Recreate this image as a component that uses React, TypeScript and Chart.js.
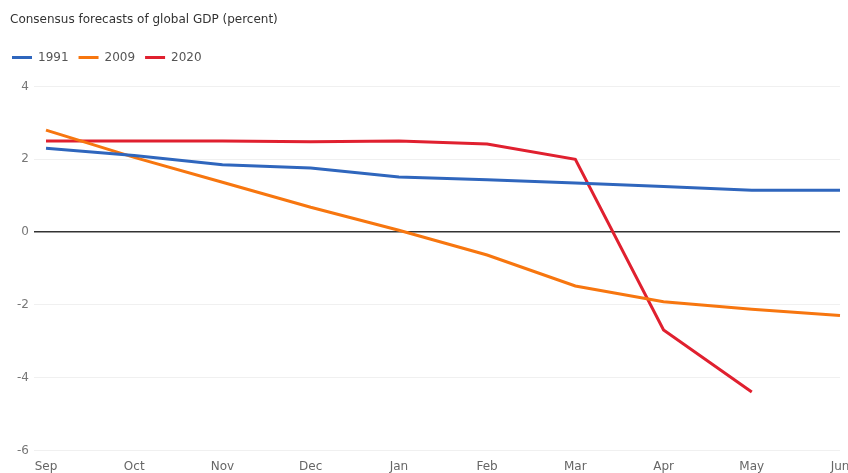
import React, { useEffect, useRef } from "react";
import { Chart, registerables } from "chart.js";

Chart.register(...registerables);

const months = ["Sep", "Oct", "Nov", "Dec", "Jan", "Feb", "Mar", "Apr", "May", "Jun"];
const gdp1991 = [2.3, 2.1, 1.85, 1.76, 1.51, 1.44, 1.35, 1.25, 1.15, 1.15];
const gdp2009 = [2.8, 2.05, 1.37, 0.68, 0.05, -0.63, -1.48, -1.91, -2.12, -2.29];
const gdp2020 = [2.5, 2.5, 2.5, 2.48, 2.5, 2.42, 2.0, -2.69, -4.39, null];
const yTicks = [-6, -4, -2, 0, 2, 4];

const FONT = "'DejaVu Sans', sans-serif";

export default function App() {
  const ref = useRef<HTMLCanvasElement | null>(null);
  useEffect(() => {
    if (!ref.current) return;
    const legendSpacer = {
      id: "legendSpacer",
      beforeInit(chart: any) {
        const lg = chart.legend;
        const origFit = lg.fit;
        lg.fit = function () {
          origFit.bind(lg)();
          this.height += 13;
        };
        const origDraw = lg.draw;
        lg.draw = function () {
          const ctx = chart.ctx;
          ctx.save();
          ctx.translate(-8, 0);
          origDraw.bind(lg)();
          ctx.restore();
        };
      },
    };
    const chart = new Chart(ref.current, {
      type: "line",
      data: {
        labels: months,
        datasets: [
          { label: "1991", data: gdp1991, borderColor: "#2f66bd", backgroundColor: "#2f66bd", borderWidth: 3, pointRadius: 0, tension: 0 },
          { label: "2009", data: gdp2009, borderColor: "#f7760f", backgroundColor: "#f7760f", borderWidth: 3, pointRadius: 0, tension: 0 },
          { label: "2020", data: gdp2020, borderColor: "#e0202f", backgroundColor: "#e0202f", borderWidth: 3, pointRadius: 0, tension: 0 },
        ],
      },
      options: {
        responsive: false,
        animation: false,
        layout: { padding: { left: 10, right: 20, top: 0, bottom: 0 } },
        plugins: {
          title: {
            display: true,
            text: "Consensus forecasts of global GDP (percent)",
            align: "start",
            color: "#333",
            font: { family: FONT, size: 12, weight: "normal" },
            padding: { top: 13, bottom: 14 },
          },
          legend: {
            display: true,
            align: "start",
            labels: {
              boxWidth: 20,
              boxHeight: 3,
              color: "#555",
              padding: 10,
              font: { family: FONT, size: 12 },
              generateLabels: (c: any) =>
                (Chart.defaults.plugins.legend.labels.generateLabels as any)(c).map((l: any) => ({ ...l, lineWidth: 0 })),
            },
          },
          tooltip: { enabled: false },
        },
        scales: {
          x: {
            offset: false,
            grid: { display: false, drawTicks: false },
            border: { display: false },
            ticks: { color: "#666", padding: 9, font: { family: FONT, size: 12 }, maxRotation: 0, autoSkip: false },
          },
          y: {
            min: -6,
            max: 4,
            afterBuildTicks(axis: any) {
              axis.ticks = yTicks.map((v) => ({ value: v }));
            },
            afterFit(axis: any) {
              axis.width = 36;
            },
            border: { display: false },
            grid: {
              color: (ctx: any) => (ctx.tick && ctx.tick.value === 0 ? "#333" : "#f0f0f0"),
              lineWidth: (ctx: any) => (ctx.tick && ctx.tick.value === 0 ? 1.5 : 1),
              tickLength: 12,
              drawTicks: true,
            },
            ticks: { color: "#777", padding: 5, font: { family: FONT, size: 12 } },
          },
        },
      },
      plugins: [legendSpacer],
    } as any);
    return () => chart.destroy();
  }, []);
  return (
    <div style={{ position: "fixed", left: 0, top: 0, width: 848, height: 473, overflow: "hidden", background: "#fff" }}>
      <canvas ref={ref} width={860} height={483} style={{ display: "block" }} />
    </div>
  );
}
